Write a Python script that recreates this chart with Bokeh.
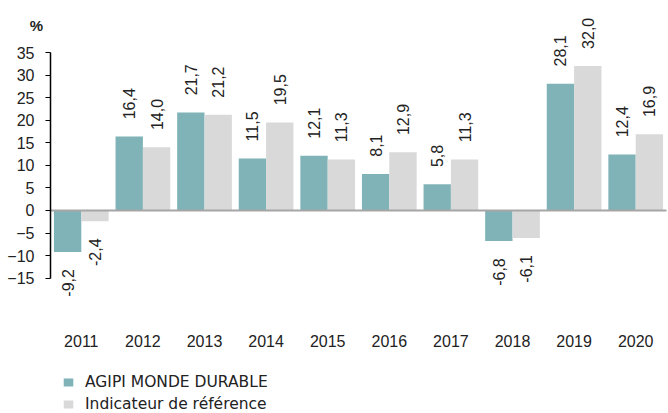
import math
from bokeh.plotting import figure
from bokeh.models import ColumnDataSource, Range1d, Legend, LegendItem, FixedTicker
from bokeh.core.properties import value
from bokeh.embed import file_html
from bokeh.resources import INLINE

years = ["2011", "2012", "2013", "2014", "2015", "2016", "2017", "2018", "2019", "2020"]
fund = [-9.2, 16.4, 21.7, 11.5, 12.1, 8.1, 5.8, -6.8, 28.1, 12.4]
bench = [-2.4, 14.0, 21.2, 19.5, 11.3, 12.9, 11.3, -6.1, 32.0, 16.9]
series_names = ["AGIPI MONDE DURABLE", "Indicateur de référence"]
y_ticks = [-15, -10, -5, 0, 5, 10, 15, 20, 25, 30, 35]
unit_label = "%"

TEAL = "#80b3b8"
GREY = "#d9d9d9"
TXT = "#222222"

W, H = 668, 413
CAT_PX = 61.6          # width of one category in pixels
LEFT_PX = 50           # position of the y axis from the left edge
TOP_PX = 52            # position of the top tick (35) from the top edge
PX_PER_UNIT = 4.5125   # vertical pixels per percentage point

def fmt(v):
    return f"{v:.1f}".replace(".", ",")

n = len(years)
idx = list(range(n))
off = 0.222
gap = 3.8

x0 = -0.5 - LEFT_PX / CAT_PX
x1 = x0 + W / CAT_PX
ytop = y_ticks[-1] + TOP_PX / PX_PER_UNIT
ybot = ytop - H / PX_PER_UNIT

src = ColumnDataSource(dict(
    xf=[i - off for i in idx],
    xb=[i + off for i in idx],
    fund=fund,
    bench=bench,
    fund_lbl=[fmt(v) for v in fund],
    bench_lbl=[fmt(v) for v in bench],
    fund_ly=[v + gap if v >= 0 else v - gap for v in fund],
    bench_ly=[v + gap if v >= 0 else v - gap for v in bench],
    fund_al=["left" if v >= 0 else "right" for v in fund],
    bench_al=["left" if v >= 0 else "right" for v in bench],
))

p = figure(width=W, height=H, x_range=Range1d(x0, x1), y_range=Range1d(ybot, ytop),
           output_backend="svg", toolbar_location=None, min_border=0)
p.outline_line_color = None
p.xgrid.grid_line_color = None
p.ygrid.grid_line_color = None

r1 = p.vbar(x="xf", top="fund", bottom=0, width=0.444, source=src,
            fill_color=TEAL, line_color=None)
r2 = p.vbar(x="xb", top="bench", bottom=0, width=0.444, source=src,
            fill_color=GREY, line_color=None)

# zero line
p.segment(x0=[-0.5], x1=[n - 0.5], y0=[0], y1=[0], line_color="#a6a6a6", line_width=2)

for xc, col, ly, al in [("xf", "fund_lbl", "fund_ly", "fund_al"), ("xb", "bench_lbl", "bench_ly", "bench_al")]:
    p.text(x=xc, y=ly, text=col, source=src, angle=math.pi / 2,
           text_align=al, text_baseline="middle", text_font=value("Liberation Sans"),
           text_font_size="16px", text_color=TXT)

# x axis (years)
p.xaxis.ticker = FixedTicker(ticks=idx)
p.xaxis.major_label_overrides = {i: y for i, y in zip(idx, years)}
p.xaxis.fixed_location = -26.2
p.xaxis.axis_line_color = None
p.xaxis.major_tick_line_color = None
p.xaxis.minor_tick_line_color = None
p.xaxis.major_label_standoff = 0
p.xaxis.major_label_text_font = "Liberation Sans"
p.xaxis.major_label_text_font_size = "16px"
p.xaxis.major_label_text_color = TXT

# y axis
p.yaxis.ticker = FixedTicker(ticks=y_ticks)
p.yaxis.fixed_location = -0.5
p.yaxis.bounds = (y_ticks[0], y_ticks[-1])
p.yaxis.axis_line_color = "#000000"
p.yaxis.axis_line_width = 1.5
p.yaxis.major_tick_line_color = "#000000"
p.yaxis.major_tick_out = 5
p.yaxis.major_tick_in = 0
p.yaxis.minor_tick_line_color = None
p.yaxis.major_label_text_font = "Liberation Sans"
p.yaxis.major_label_text_font_size = "16px"
p.yaxis.major_label_text_color = TXT
p.yaxis.major_label_standoff = 11

# unit label
p.text(x=[x0 + 36 / CAT_PX], y=[ytop - 25 / PX_PER_UNIT], text=[unit_label],
       text_align="center", text_baseline="middle", text_font=value("Liberation Sans"),
       text_font_style="bold", text_font_size="15px", text_color=TXT)

legend = Legend(items=[LegendItem(label=series_names[0], renderers=[r1]),
                       LegendItem(label=series_names[1], renderers=[r2])],
                location=(62, 0), orientation="vertical",
                label_text_font="DejaVu Sans", label_text_font_size="15.5px", label_text_color=TXT,
                glyph_width=12, glyph_height=10, spacing=4, padding=0, margin=0,
                label_standoff=11, border_line_color=None, background_fill_alpha=0,
                label_height=14)
p.add_layout(legend, "center")

open("out.html", "w").write(file_html(p, INLINE))
